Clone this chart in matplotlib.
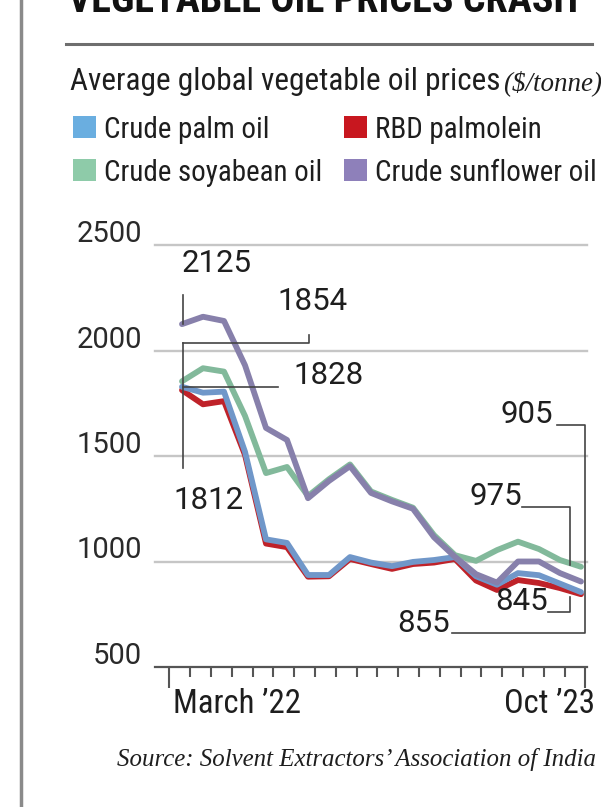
import numpy as np
import matplotlib
matplotlib.use('Agg')
import matplotlib.pyplot as plt
from matplotlib import font_manager
from matplotlib.lines import Line2D
from matplotlib.patches import Rectangle
from matplotlib.transforms import blended_transform_factory

# monthly average prices, $/tonne, March 2022 .. October 2023
months = ['Mar 22', 'Apr 22', 'May 22', 'Jun 22', 'Jul 22', 'Aug 22', 'Sep 22',
          'Oct 22', 'Nov 22', 'Dec 22', 'Jan 23', 'Feb 23', 'Mar 23', 'Apr 23',
          'May 23', 'Jun 23', 'Jul 23', 'Aug 23', 'Sep 23', 'Oct 23']
palm = [1828, 1800, 1805, 1520, 1105, 1088, 936, 936, 1021, 995,
        978, 998, 1007, 1021, 930, 890, 945, 935, 895, 855]
palmolein = [1812, 1745, 1760, 1505, 1085, 1068, 928, 930, 1012, 988,
             965, 988, 995, 1012, 910, 865, 912, 898, 874, 845]
soyabean = [1854, 1916, 1900, 1690, 1419, 1448, 1310, 1390, 1460, 1332,
            1292, 1255, 1125, 1030, 1003, 1054, 1094, 1059, 1007, 975]
sunflower = [2125, 2160, 2140, 1930, 1633, 1576, 1300, 1382, 1452, 1325,
             1285, 1250, 1115, 1022, 940, 900, 1000, 1000, 945, 905]

series = ['Crude palm oil', 'RBD palmolein', 'Crude soyabean oil', 'Crude sunflower oil']
legend_cols = ['#6aaee0', '#c8171f', '#8ecba9', '#8e80ba']
line_cols = ['#7097c9', '#bf2229', '#82b99b', '#8780ab']
yticks = [500, 1000, 1500, 2000, 2500]
xlabels = ['March \u201922', 'Oct \u201923']

W, H = 601, 807
fig = plt.figure(figsize=(W / 100, H / 100), dpi=100)
fig.patch.set_facecolor('white')


def fx(px):
    return px / W


def fy(py):
    return 1 - py / H


names = {f.name for f in font_manager.fontManager.ttflist}
if 'Liberation Sans Narrow' in names:
    narrow = 'Liberation Sans Narrow'
elif 'Roboto Condensed' in names:
    narrow = 'Roboto Condensed'
else:
    narrow = 'DejaVu Sans'
numfont = 'Roboto' if 'Roboto' in names else 'DejaVu Sans'
ink = '#1e1e1e'


def fit(t, width):
    r = fig.canvas.get_renderer()
    w = t.get_window_extent(renderer=r).width
    t.set_fontsize(t.get_fontsize() * width / w)
    return t.get_fontsize()


# page furniture
fig.add_artist(Line2D([fx(20.5)] * 2, [0, 1], transform=fig.transFigure,
                      color='#8a8a8a', lw=2.5))
title = fig.text(fx(68), fy(12), 'VEGETABLE OIL PRICES CRASH', family=narrow,
                 fontweight='heavy', fontsize=30, color='#111111', va='baseline')
fit(title, 510)
fig.add_artist(Line2D([fx(66), fx(592)], [fy(44)] * 2, transform=fig.transFigure,
                      color='#6e6e6e', lw=2.2))

sub = fig.text(fx(70), fy(90), 'Average global vegetable oil prices', family=narrow,
               fontsize=20, color=ink, va='baseline')
fit(sub, 430)
unit = fig.text(fx(503), fy(90), '($/tonne)', family='Liberation Serif',
                style='italic', fontsize=16, color=ink, va='baseline')
fit(unit, 99)

# legend
leg_x = [73, 344, 73, 344]
leg_base = [138, 138, 181, 181]
texts = []
for name, col, lx, lb in zip(series, legend_cols, leg_x, leg_base):
    fig.add_artist(Rectangle((fx(lx), fy(lb)), fx(23), 22 / H,
                             transform=fig.transFigure, color=col, lw=0))
    texts.append(fig.text(fx(lx + 31), fy(lb), name, family=narrow, fontsize=20,
                          color=ink, va='baseline'))
size = fit(texts[3], 221)
for t in texts:
    t.set_fontsize(size)

# chart
x0, step = 182, 21.0
ax = fig.add_axes([fx(155), fy(667), fx(587) - fx(155), fy(245) - fy(667)])
ax.set_xlim((155 - x0) / step, (587 - x0) / step)
ax.set_ylim(500, 2500)
ax.axis('off')
ppu = 422 / 2000  # pixels per $/tonne

for v in yticks[1:]:
    ax.axhline(v, color='#c6c6c6', lw=1.7, clip_on=False, zorder=1)
ax.axhline(500, color='#555555', lw=1.6, clip_on=False, zorder=1)

tick0 = (169.3 - x0) / step
for k in range(21):
    p = tick0 + k * 20.8 / step
    ln = 21 if k in (0, 20) else 10
    ax.plot([p, p], [500, 500 - ln / ppu], color='#555555', lw=1.5,
            clip_on=False, solid_capstyle='butt')

ytr = blended_transform_factory(fig.transFigure, ax.transData)
for v in yticks:
    ax.text(fx(142), v + 3 / ppu, str(v), transform=ytr, ha='right', va='baseline',
            family=numfont, fontsize=21, color='#2a2a2a')

x = np.arange(len(months))
order = [1, 0, 2, 3]
for i in order:
    vals = [palm, palmolein, soyabean, sunflower][i]
    ax.plot(x, vals, color=line_cols[i], lw=4.2, solid_joinstyle='round',
            solid_capstyle='round', clip_on=False, zorder=3 + order.index(i))


def X(px):
    return (px - x0) / step


def Y(py):
    return 500 + (667 - py) / ppu


lead = dict(color='#444444', lw=1.2, clip_on=False, zorder=6)
ax.plot([X(183)] * 2, [Y(295), sunflower[0]], **lead)
ax.plot([X(183), X(309), X(309)], [Y(343.3), Y(343.3), Y(335)], **lead)
ax.plot([X(183)] * 2, [Y(343.3), Y(468)], **lead)
ax.plot([X(183), X(278)], [palm[0], palm[0]], **lead)
ax.plot([X(556.7), X(585), X(585), X(452)], [Y(425), Y(425), Y(633), Y(633)], **lead)
ax.plot([X(521.7), X(570), X(570)], [Y(507.3), Y(507.3), Y(565)], **lead)
ax.plot([X(548), X(570), X(570)], [Y(611.7), Y(611.7), Y(597)], **lead)

labels = [
    (sunflower[0], 182, 271.7, 'left'),
    (soyabean[0], 277, 310, 'left'),
    (palm[0], 293, 384, 'left'),
    (palmolein[0], 173, 509, 'left'),
    (sunflower[-1], 553, 423, 'right'),
    (soyabean[-1], 522, 505, 'right'),
    (palmolein[-1], 548, 610, 'right'),
    (palm[-1], 450, 632, 'right'),
]
for val, px, py, ha in labels:
    ax.text(X(px), Y(py), str(val), ha=ha, va='baseline', family=numfont,
            fontsize=22.5, color=ink, clip_on=False, zorder=7)

m = fig.text(fx(173), fy(713), xlabels[0], family=narrow, fontsize=20, color=ink,
             va='baseline')
fit(m, 128)
o = fig.text(fx(595), fy(713), xlabels[1], family=narrow, fontsize=m.get_fontsize(),
             color=ink, va='baseline', ha='right')

src = fig.text(fx(117), fy(766), 'Source: Solvent Extractors\u2019 Association of India',
               family='Liberation Serif', style='italic', fontsize=16, color=ink,
               va='baseline')
fit(src, 480)

fig.savefig('out.png', dpi=100)
